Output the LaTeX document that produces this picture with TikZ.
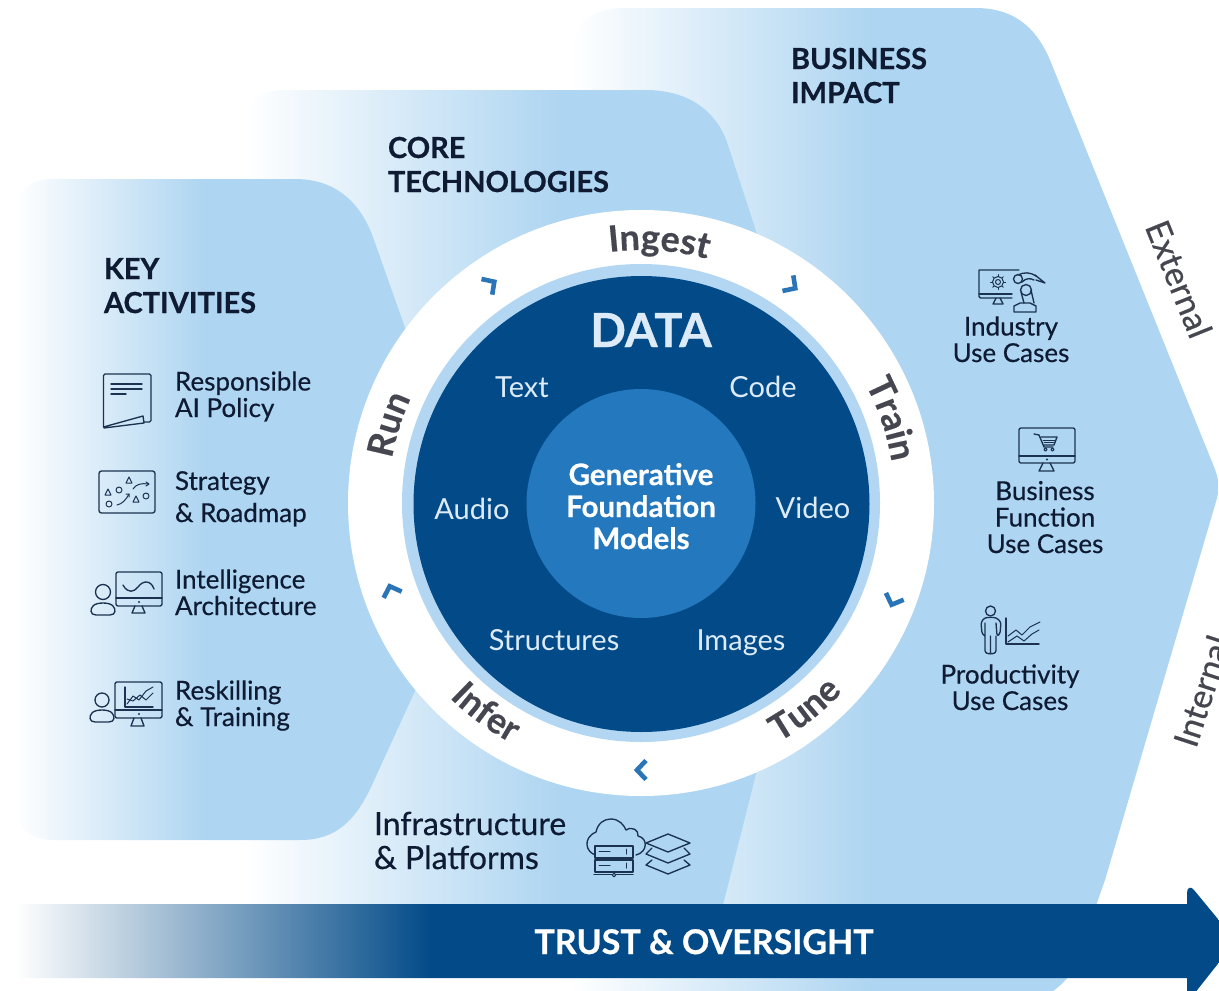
\documentclass[tikz,border=0pt]{standalone}
\usepackage{fontspec}
\usetikzlibrary{decorations.text}
\setmainfont{Lato}
\newfontfamily\medfont[FakeBold=0.45]{Lato}
\newfontfamily\heavyfont[BoldFeatures={FakeBold=0.6}]{Lato}
\definecolor{bgblue}{HTML}{AED5F1}
\definecolor{navy}{HTML}{034B88}
\definecolor{midblue}{HTML}{2478BD}
\definecolor{ringblue}{HTML}{B3D7F2}
\definecolor{chev}{HTML}{2A74B8}
\definecolor{icon}{HTML}{1B3350}
\definecolor{ink}{HTML}{0E1B33}
\definecolor{ringtxt}{HTML}{45464F}
\definecolor{pale}{HTML}{DCEBF7}
\newcommand{\fsz}[2]{\fontsize{#1}{#2}\selectfont}
\newcommand{\chevmark}[3]{\draw[chev line,shift={(#1,#2)},rotate=#3] (-5,-9.5) -- (4,0) -- (-5,9.5);}
\newcommand{\ringlabel}[5]{\path[decorate,decoration={text along path,text={|\medfont\bfseries\fsz{36}{36}\color{ringtxt}|#1},text align=center}] plot[domain=0:#5,samples=60] ({641+#2*cos(#3+#4*\x)},{503+#2*sin(#3+#4*\x)});}
\tikzset{
  ico/.style={draw=icon,line width=1.35pt,line join=round,line cap=round},
  ico thin/.style={draw=icon,line width=1pt,line join=round,line cap=round},
  chev line/.style={draw=chev,line width=4.6pt,line join=miter},
  lbl/.style={inner sep=0pt,outer sep=0pt,text=ink,font=\medfont\fsz{26}{26.5}},
  head/.style={inner sep=0pt,outer sep=0pt,text=ink,font=\heavyfont\bfseries\fsz{29}{34}},
  onnavy/.style={inner sep=0pt,outer sep=0pt,text=pale,font=\fsz{29}{30}},
  bigw/.style={inner sep=0pt,outer sep=0pt,text=white,font=\heavyfont\bfseries\fsz{29.5}{32}},
  side/.style={inner sep=0pt,outer sep=0pt,text=ringtxt,font=\medfont\fsz{34}{34}},
}
\begin{document}
\begin{tikzpicture}[x=1pt,y=-1pt]
\useasboundingbox (0,0) rectangle (1219,991);
\clip (0,0) rectangle (1219,991);
\fill[white] (0,0) rectangle (1219,991);

% business impact
\begin{scope}
\clip (571,60) .. controls (571,25) and (590,8) .. (625,8) -- (975,8)
  .. controls (1012,8) and (1035,25) .. (1050,60) -- (1212,462)
  .. controls (1220,480) and (1220,490) .. (1215,505) -- (1105,880) -- (1075,965)
  .. controls (1070,978) and (1060,986) .. (1048,995) -- (571,995) -- cycle;
\shade[left color=white,right color=bgblue] (571,0) rectangle (870,995);
\fill[bgblue] (869.5,0) rectangle (1219,995);
\end{scope}

% core technologies
\begin{scope}
\clip (245,130) .. controls (245,105) and (258,90) .. (285,90) -- (645,90)
  .. controls (690,90) and (716,112) .. (727,142) -- (755,228) -- (830,480)
  -- (723,905) -- (245,905) -- cycle;
\shade[left color=white,right color=bgblue] (245,80) rectangle (560,910);
\fill[bgblue] (559.5,80) rectangle (840,910);
\end{scope}

% key activities
\begin{scope}
\clip (15,215) .. controls (15,192) and (30,179) .. (52,179) -- (295,179)
  .. controls (338,179) and (362,205) .. (374,240) -- (420,370) -- (420,680) -- (372,785)
  .. controls (355,822) and (335,840) .. (300,840) -- (52,840)
  .. controls (30,840) and (15,825) .. (15,805) -- cycle;
\shade[left color=white,right color=bgblue] (15,170) rectangle (204,845);
\fill[bgblue] (203.5,170) rectangle (425,845);
\end{scope}

% arrow
\begin{scope}
\clip (15,904) -- (1187,904) -- (1187,893)
  .. controls (1187,887) and (1191,886) .. (1194,890) -- (1236,941) -- (1194,994) -- (1187,999) -- (1187,978) -- (15,978) -- cycle;
\shade[left color=white,right color=navy] (15,880) rectangle (430,1000);
\fill[navy] (429.5,880) rectangle (1240,1000);
\end{scope}

% wheel
\fill[white] (641,503) circle[radius=293];
\fill[ringblue] (641,503) circle[radius=239];
\fill[navy] (641.5,504) circle[radius=228];
\fill[midblue] (641,503.5) circle[radius=114.5];

% chevrons
\chevmark{491}{284}{34.4}
\chevmark{792}{286}{-34.8}
\chevmark{893}{601}{-111}
\chevmark{641}{770}{180}
\chevmark{391}{590}{109.2}

% ring labels
\ringlabel{Ingest}{253}{-126}{1}{80}
\ringlabel{Train}{254}{-58.6}{1}{80}
\ringlabel{Tune}{276}{91.6}{-1}{80}
\ringlabel{Infer}{273}{171.5}{-1}{90}
\ringlabel{Run}{253}{157.3}{1}{80}

% data labels
\node[anchor=base,inner sep=0pt,outer sep=0pt,text=pale,font=\heavyfont\bfseries\fsz{47}{47}] (data) at (651,347) {DATA};
\node[onnavy,anchor=base] (ttext) at (522,397) {Text};
\node[onnavy,anchor=base] (tcode) at (763,397) {Code};
\node[onnavy,anchor=base] (taudio) at (472,519) {Audio};
\node[onnavy,anchor=base] (tvideo) at (813,518) {Video};
\node[onnavy,anchor=base] (tstruct) at (554,650) {Structures};
\node[onnavy,anchor=base] (timages) at (741,650) {Images};
\node[bigw,anchor=base,align=center] (gen) at (641,549) {Generative\\Foundation\\Models};

% headings
\node[head,anchor=base west,align=left] (key) at (104,313) {KEY\\ACTIVITIES};
\node[head,anchor=base west,align=left] (core) at (388,192) {CORE\\TECHNOLOGIES};
\node[head,anchor=base west,align=left] (biz) at (791,103) {BUSINESS\\IMPACT};

% left labels
\node[lbl,anchor=base west,align=left] (resp) at (175,417) {Responsible\\AI Policy};
\node[lbl,anchor=base west,align=left,font=\medfont\fsz{26}{32}] (strat) at (175,522) {Strategy\\\& Roadmap};
\node[lbl,anchor=base west,align=left] (intel) at (175,615) {Intelligence\\Architecture};
\node[lbl,anchor=base west,align=left] (resk) at (175,726) {Reskilling\\\& Training};
\node[lbl,anchor=base west,align=left,font=\medfont\fsz{32}{34}] (infra) at (374,869) {Infrastructure\\\& Platforms};

% right labels
\node[lbl,anchor=base,align=center] (ind) at (1011,362) {Industry\\Use Cases};
\node[lbl,anchor=base,align=center] (func) at (1045,553) {Business\\Function\\Use Cases};
\node[lbl,anchor=base,align=center] (prod) at (1010,710) {Productivity\\Use Cases};

\node[side,rotate=-68] (ext) at (1179,279) {External};
\node[side,rotate=72] (int) at (1202,691) {Internal};

\node[inner sep=0pt,outer sep=0pt,text=white,font=\heavyfont\bfseries\fsz{34}{34},anchor=base] (trust) at (704,954) {TRUST \& OVERSIGHT};

% --- icons ---
% document
\draw[ico,rounded corners=1.5] (103.5,427) -- (103.5,374) -- (151,374) -- (151,422) -- (144,422);
\draw[ico] (103.5,427) -- (143,416) -- (144,423) -- (104,428);
\draw[ico] (111,384) -- (142,384) (111,389) -- (142,389) (111,394) -- (126,394);
% strategy
\draw[ico,rounded corners=2.5] (99,471) rectangle (155,513);
\draw[ico thin] (126,483) -- (129,477) -- (132,483) -- cycle (105,495) -- (108,489) -- (111,495) -- cycle (133,502) -- (136,496) -- (139,502) -- cycle;
\draw[ico thin] (119,490) circle[radius=3] (109,504) circle[radius=3] (146,496) circle[radius=3];
\draw[ico thin] (133,489) .. controls (136,484) and (142,483) .. (148,484) (117,505) .. controls (122,504) and (126,500) .. (129,494);
\draw[ico thin] (146,482) -- (149,484) -- (146,486) (126,494) -- (129,494) -- (129,497);
% person + monitor: intelligence
\draw[ico] (103,592) circle[radius=7.5];
\draw[ico] (96,615) .. controls (90,615) and (90,609) .. (93,606) .. controls (96,602) and (110,602) .. (113,606) .. controls (116,609) and (116,615) .. (110,615) -- cycle;
\draw[ico,rounded corners=2] (116,572) rectangle (162,606);
\draw[ico] (116,598) -- (162,598);
\draw[ico] (135,606) -- (132,613) -- (145,613) -- (142,606);
\fill[icon] (139,602) circle[radius=1.2];
\draw[ico] (123,585) .. controls (128,594) and (134,592) .. (138,587) .. controls (143,580) and (151,580) .. (154,589);
% person + monitor: reskilling
\draw[ico] (102,700) circle[radius=7];
\draw[ico] (95,722) .. controls (89,722) and (89,716) .. (92,713) .. controls (95,709) and (109,709) .. (112,713) .. controls (115,716) and (115,722) .. (109,722) -- cycle;
\draw[ico,rounded corners=2] (115,682) rectangle (162,718);
\draw[ico] (115,710) -- (162,710);
\draw[ico] (134,718) -- (131,726) -- (144,726) -- (141,718);
\fill[icon] (139,714) circle[radius=1.2];
\draw[ico] (125,687) -- (125,707) -- (153,707);
\draw[ico thin] (127,704) -- (133,696) -- (139,700) -- (146,691) -- (153,687) (127,699) -- (133,701) -- (140,695) -- (146,700) -- (153,693);
% industry
\draw[ico,rounded corners=2] (979,270) -- (1019,270) (1012,298) -- (979,298) -- (979,270);
\draw[ico] (979,294) -- (1012,294);
\draw[ico] (996,298) -- (993,304) -- (1003,304) -- (1000,298);
\draw[ico thin] (998,282) circle[radius=2.5] (998,282) circle[radius=5.5];
\foreach \a in {0,45,...,315} {\draw[ico thin] ({998+5.5*cos(\a)},{282+5.5*sin(\a)}) -- ({998+7.5*cos(\a)},{282+7.5*sin(\a)});}
\draw[ico] (1014,312) -- (1014,306) -- (1020,303) -- (1030,303) -- (1036,306) -- (1036,312) -- cycle;
\draw[ico] (1024,303) -- (1021,292) (1034,303) -- (1031,290);
\draw[ico] (1026,290) circle[radius=5.5] (1018,279) circle[radius=4.5];
\draw[ico] (1018,275) .. controls (1024,272) and (1030,272) .. (1036,276) (1022,282) .. controls (1026,278) and (1030,278) .. (1034,280);
\draw[ico] (1035,275) -- (1045,283) -- (1036,280);
% business cart
\draw[ico,rounded corners=2] (1019,428) rectangle (1075,463);
\draw[ico] (1019,456) -- (1075,456);
\draw[ico] (1043,463) -- (1039,471) -- (1054,471) -- (1050,463);
\fill[icon] (1047,459.5) circle[radius=1.2];
\draw[ico] (1034,434) -- (1039,435) -- (1044,447) -- (1053,447);
\draw[ico] (1041,437) -- (1057,437) -- (1054,445) -- (1044,445);
\draw[ico thin] (1043,440) -- (1055,440) (1044,442.5) -- (1054,442.5);
\draw[ico thin] (1045.5,449.5) circle[radius=1.6] (1052.5,449.5) circle[radius=1.6];
% productivity
\draw[ico] (990.5,611) circle[radius=5];
\draw[ico,rounded corners=2.5] (985,636) -- (982,634) -- (981,622) -- (985,617.5) -- (996,617.5) -- (1001,622) -- (1000,634) -- (997,636) -- (996,623) (985,623) -- (985,653) -- (990.5,654) -- (996,653) -- (996,636) (990.5,636) -- (990.5,654);
\draw[ico] (1006,618) -- (1006,644) -- (1039,644);
\draw[ico thin] (1008,636) -- (1016,630) -- (1022,635) -- (1030,627) -- (1040,622) (1008,642) -- (1017,636) -- (1024,641) -- (1032,634) -- (1039,630);
% infrastructure
\draw[ico] (596,855) .. controls (586,853) and (582,838) .. (596,832) .. controls (598,823) and (604,819) .. (611,819) .. controls (619,819) and (624,825) .. (626,830) .. controls (632,826) and (639,830) .. (638,836) .. controls (648,838) and (648,852) .. (636,855);
\draw[ico,fill=bgblue] (595,846) rectangle (633,858);
\draw[ico,fill=bgblue] (595,860) rectangle (633,872);
\draw[ico thin] (599,851) -- (610,851) (599,865) -- (610,865) (626,849) -- (626,854) (626,863) -- (626,868);
\draw[ico] (594,874.5) -- (633,874.5) (614,872) -- (614,874.5);
\draw[ico thin,fill=bgblue] (614,875) circle[radius=1.8];
\draw[ico] (668,834) -- (690,843) -- (668,852) -- (646,843) -- cycle;
\draw[ico] (652,848) -- (646,854) -- (668,863) -- (690,854) -- (684,848);
\draw[ico] (652,860) -- (646,865) -- (668,874) -- (690,865) -- (684,860);
\end{tikzpicture}
\end{document}
